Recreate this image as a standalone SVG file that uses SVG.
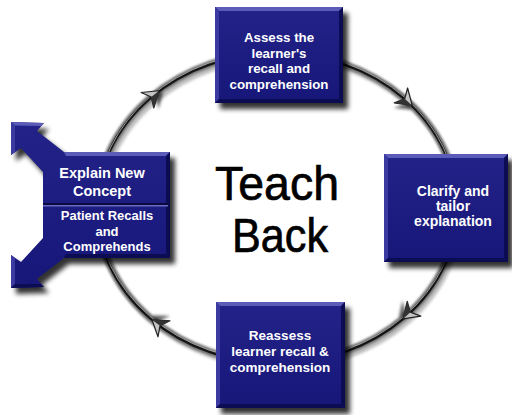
<svg xmlns="http://www.w3.org/2000/svg" width="512" height="415" viewBox="0 0 512 415">
  <defs>
    <filter id="soft" x="-20%" y="-20%" width="140%" height="140%">
      <feGaussianBlur stdDeviation="2.6"/>
    </filter>
    <filter id="tubeBlur" x="-10%" y="-10%" width="120%" height="120%">
      <feGaussianBlur stdDeviation="0.9"/>
    </filter>
    <filter id="headBlur" x="-50%" y="-50%" width="200%" height="200%">
      <feGaussianBlur stdDeviation="1.6"/>
    </filter>
    <linearGradient id="boxFill" x1="0" y1="0" x2="0" y2="1">
      <stop offset="0" stop-color="#222288"/>
      <stop offset="1" stop-color="#17177a"/>
    </linearGradient>
    <!-- chevron head of a cycle arrow, pointing along +x -->
    <g id="head">
      <path d="M8,1 L-6,-9 L-1,1 L-6,11 Z" fill="#000" opacity="0.6" filter="url(#headBlur)" transform="translate(2,3)"/>
      <path d="M8,0 L-7,-10 L-2,0 L-7,10 Z" fill="#c4c4c4" stroke="#222" stroke-width="1.2" stroke-linejoin="round"/>
      <path d="M8,0 L-2,0 L-7,10 Z" fill="#333"/>
    </g>
  </defs>
  <style>
    .lbl { font-family: "Liberation Sans", Arial, sans-serif; font-weight: bold; fill: #ffffff; text-anchor: middle; }
    .title { font-family: "Liberation Sans", Arial, sans-serif; font-size: 49px; fill: #000000; stroke: #000000; stroke-width: 0.7px; }
    .shadow { fill: #000; opacity: 0.8; filter: url(#soft); }
    .face { fill: url(#boxFill); }
    .hi { fill: #5b5bb8; }
    .side { fill: #3a3aa0; }
    .dark { fill: #0c0c52; }
  </style>

  <rect width="512" height="415" fill="#ffffff"/>

  <!-- cycle ring -->
  <g id="connectors">
    <ellipse cx="280" cy="212" rx="180" ry="155" fill="none" stroke="#000" stroke-width="6" opacity="0.25" filter="url(#headBlur)"/>
    <ellipse cx="277" cy="208" rx="180" ry="155" fill="none" stroke="#707070" stroke-width="7" filter="url(#tubeBlur)"/>
    <ellipse cx="277" cy="208" rx="180" ry="155" fill="none" stroke="#151515" stroke-width="2.8"/>
    <ellipse cx="277" cy="206.6" rx="180" ry="155" fill="none" stroke="#d8d8d8" stroke-width="0.9" opacity="0.75"/>
    <use href="#head" transform="translate(152.8,95.8) rotate(-39.4)"/>
    <use href="#head" transform="translate(406.2,100.1) rotate(41.6)"/>
    <use href="#head" transform="translate(408.9,313.5) rotate(137.2)"/>
    <use href="#head" transform="translate(158.4,324.6) rotate(217)"/>
  </g>

  <!-- Teach Back title -->
  <g id="title">
    <text class="title" x="215" y="200" textLength="124" lengthAdjust="spacingAndGlyphs">Teach</text>
    <text class="title" x="232" y="252" textLength="96" lengthAdjust="spacingAndGlyphs">Back</text>
  </g>

  <!-- top: assess -->
  <g id="assess">
    <rect class="shadow" x="220" y="13" width="128" height="96"/>
    <rect class="face" x="215" y="7" width="128" height="96"/>
    <polygon class="hi" points="215,7 343,7 339,11 219,11"/>
    <polygon class="side" points="215,7 219,11 219,99 215,103"/>
    <polygon class="dark" points="343,7 343,103 339,99 339,11"/>
    <polygon class="dark" points="215,103 343,103 339,99 219,99"/>
    <text class="lbl" font-size="13.3" x="279" y="42">Assess the</text>
    <text class="lbl" font-size="13.3" x="279" y="57.5">learner's</text>
    <text class="lbl" font-size="13.3" x="279" y="73">recall and</text>
    <text class="lbl" font-size="13.3" x="279" y="88.5">comprehension</text>
  </g>

  <!-- right: clarify -->
  <g id="clarify">
    <rect class="shadow" x="389" y="160" width="124" height="108"/>
    <rect class="face" x="384" y="154" width="124" height="108"/>
    <polygon class="hi" points="384,154 508,154 504,158 388,158"/>
    <polygon class="side" points="384,154 388,158 388,258 384,262"/>
    <polygon class="dark" points="508,154 508,262 504,258 504,158"/>
    <polygon class="dark" points="384,262 508,262 504,258 388,258"/>
    <text class="lbl" font-size="14" x="453" y="195.5">Clarify and</text>
    <text class="lbl" font-size="14" x="453" y="210.5">tailor</text>
    <text class="lbl" font-size="14" x="453" y="226">explanation</text>
  </g>

  <!-- bottom: reassess -->
  <g id="reassess">
    <rect class="shadow" x="221" y="308" width="129" height="106"/>
    <rect class="face" x="216" y="302" width="129" height="106"/>
    <polygon class="hi" points="216,302 345,302 341,306 220,306"/>
    <polygon class="side" points="216,302 220,306 220,404 216,408"/>
    <polygon class="dark" points="345,302 345,408 341,404 341,306"/>
    <polygon class="dark" points="216,408 345,408 341,404 220,404"/>
    <text class="lbl" font-size="13.5" x="280" y="340">Reassess</text>
    <text class="lbl" font-size="13.5" x="280" y="356">learner recall &amp;</text>
    <text class="lbl" font-size="13.5" x="280" y="371.5">comprehension</text>
  </g>

  <!-- left: explain / patient recalls, with outward arrow prongs -->
  <g id="explain">
    <path class="shadow" d="M16,128 L49,129 L42,137 L69,158 L175,158 L175,264 L69,264 L42,285 L49,293 L16,294 L16,261 L26,268 L48,244 L48,178 L26,154 L16,161 Z"/>
    <path class="face" d="M11,122 L44,123 L37,131 L64,152 L170,152 L170,258 L64,258 L37,279 L44,287 L11,288 L11,255 L21,262 L43,238 L43,172 L21,148 L11,155 Z"/>
    <path class="hi" d="M11,122 L44,123 L41,126 L15,125.5 Z"/>
    <path class="hi" d="M64,152 L170,152 L166,156 L66,156 Z"/>
    <path class="side" d="M11,122 L15,125.5 L15,152 L11,155 Z"/>
    <path class="side" d="M11,255 L15,258 L15,284 L11,288 Z"/>
    <path class="dark" d="M170,152 L170,258 L166,254 L166,156 Z"/>
    <path class="dark" d="M64,258 L170,258 L166,254 L66,254 Z"/>
    <path class="dark" d="M11,288 L44,287 L40,284 L15,284 Z"/>
    <rect x="43" y="203" width="125" height="2" fill="#0a0a40"/>
    <rect x="43" y="205" width="125" height="1.5" fill="#6a6ac0"/>
    <text class="lbl" font-size="14.5" x="102" y="178">Explain New</text>
    <text class="lbl" font-size="14.5" x="102" y="195.5">Concept</text>
    <text class="lbl" font-size="13" x="107" y="220">Patient Recalls</text>
    <text class="lbl" font-size="13" x="107" y="235.5">and</text>
    <text class="lbl" font-size="13" x="107" y="251">Comprehends</text>
  </g>
</svg>
